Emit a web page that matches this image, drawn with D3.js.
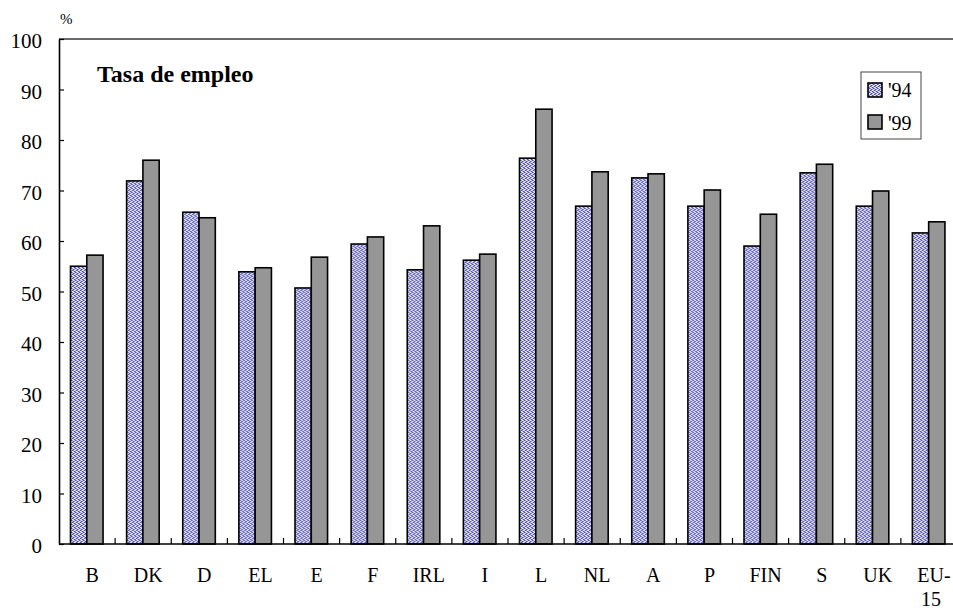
<!DOCTYPE html>
<html>
<head>
<meta charset="utf-8">
<script src="https://cdn.jsdelivr.net/npm/d3@7"></script>
<style>
  html, body { margin: 0; padding: 0; background: #fff; }
  svg { display: block; font-family: "Liberation Serif", "Times New Roman", serif; }
</style>
</head>
<body>
<svg id="chart" width="953" height="610"></svg>
<script>
// Employment rate by country, 1994 vs 1999
const categories = ["B", "DK", "D", "EL", "E", "F", "IRL", "I", "L", "NL", "A", "P", "FIN", "S", "UK", "EU-15"];
const seriesNames = ["'94", "'99"];
const values94 = [55.0, 71.9, 65.7, 53.9, 50.7, 59.4, 54.3, 56.2, 76.4, 66.9, 72.5, 66.9, 59.0, 73.5, 66.9, 61.6];
const values99 = [57.2, 76.0, 64.6, 54.7, 56.8, 60.8, 63.0, 57.4, 86.1, 73.7, 73.3, 70.1, 65.3, 75.2, 69.9, 63.8];
const yTicks = [0, 10, 20, 30, 40, 50, 60, 70, 80, 90, 100];

const rows = categories.map((c, i) => ({ cat: c, vals: [values94[i], values99[i]] }));

const svg = d3.select("#chart");
const plot = { left: 59, top: 39, bottom: 544, right: 957 };

const x = d3.scaleBand().domain(categories).range([plot.left, plot.right]).padding(0);
const xi = d3.scaleBand().domain(seriesNames).range([x.bandwidth() * 0.205, x.bandwidth() * 0.785]).padding(0);
const y = d3.scaleLinear().domain([0, 100]).range([plot.bottom, plot.top]);

// Fine blue weave fill for the first series
const defs = svg.append("defs");
const pat = defs.append("pattern")
  .attr("id", "weave")
  .attr("patternUnits", "userSpaceOnUse")
  .attr("width", 4).attr("height", 4);
pat.append("rect").attr("width", 4).attr("height", 4).attr("fill", "#f2f2fc");
[[0, 0], [2, 1], [1, 2], [3, 3]].forEach(([px, py]) =>
  pat.append("rect").attr("x", px).attr("y", py).attr("width", 1).attr("height", 1).attr("fill", "#4a4ab0"));
[[1, 0], [3, 1], [2, 2], [0, 3], [3, 0], [1, 1], [0, 2], [2, 3]].forEach(([px, py], i) =>
  pat.append("rect").attr("x", px).attr("y", py).attr("width", 1).attr("height", 1)
    .attr("fill", i < 4 ? "#8c8cd0" : "#c4c4ea"));

const fills = { "'94": "url(#weave)", "'99": "#969696" };

// Plot frame (top edge)
svg.append("line")
  .attr("x1", plot.left).attr("x2", plot.right).attr("y1", plot.top).attr("y2", plot.top)
  .attr("stroke", "#3a3a3a").attr("stroke-width", 1.5);

// Bars
const groups = svg.append("g").selectAll("g")
  .data(rows).join("g")
  .attr("transform", d => `translate(${x(d.cat)},0)`);

groups.selectAll("rect")
  .data(d => d.vals.map((v, i) => ({ key: seriesNames[i], v })))
  .join("rect")
  .attr("x", d => xi(d.key))
  .attr("width", xi.bandwidth())
  .attr("y", d => y(d.v))
  .attr("height", d => y(0) - y(d.v))
  .attr("fill", d => fills[d.key])
  .attr("stroke", "#000")
  .attr("stroke-width", 1.6);

// Y axis with inward ticks
const yAxis = d3.axisLeft(y).tickValues(yTicks).tickSizeInner(-5).tickSizeOuter(0).tickPadding(17);
const gy = svg.append("g").attr("transform", `translate(${plot.left},0)`).call(yAxis);
gy.select(".domain").attr("stroke", "#000").attr("stroke-width", 1.6);
gy.selectAll(".tick line").attr("stroke", "#000").attr("stroke-width", 1.2);
gy.selectAll(".tick text")
  .attr("font-size", 21).attr("fill", "#000")
  .attr("font-family", "Liberation Serif, Times New Roman, serif")
  .attr("dy", "0.42em");

// X axis: baseline with small upward ticks at category boundaries
svg.append("line")
  .attr("x1", plot.left).attr("x2", plot.right).attr("y1", plot.bottom).attr("y2", plot.bottom)
  .attr("stroke", "#000").attr("stroke-width", 1.6);
svg.append("g").selectAll("line")
  .data(categories.slice(1)).join("line")
  .attr("x1", d => x(d)).attr("x2", d => x(d))
  .attr("y1", plot.bottom).attr("y2", plot.bottom - 6)
  .attr("stroke", "#000").attr("stroke-width", 1.2);

// Category labels (EU-15 wraps onto two lines)
const labels = svg.append("g").selectAll("text")
  .data(categories).join("text")
  .attr("x", d => x(d) + x.bandwidth() / 2 + 5)
  .attr("y", 582)
  .attr("text-anchor", "middle")
  .attr("font-size", 20)
  .attr("fill", "#000");
labels.each(function (d) {
  const t = d3.select(this);
  if (d.includes("-")) {
    const parts = d.split("-");
    t.append("tspan").attr("x", t.attr("x")).text(parts[0] + "-");
    t.append("tspan").attr("x", +t.attr("x") - 3).attr("dy", 24).text(parts[1]);
  } else {
    t.text(d);
  }
});

// Unit label
svg.append("text").attr("x", 60).attr("y", 24)
  .attr("font-size", 15).attr("fill", "#000").text("%");

// Title
svg.append("text").attr("x", 97).attr("y", 82)
  .attr("font-size", 24).attr("font-weight", "bold").attr("fill", "#000")
  .text("Tasa de empleo");

// Legend
const lg = svg.append("g").attr("transform", "translate(861,72)");
lg.append("rect").attr("width", 60).attr("height", 67)
  .attr("fill", "#fff").attr("stroke", "#444").attr("stroke-width", 1);
seriesNames.forEach((s, i) => {
  lg.append("rect").attr("x", 7).attr("y", 11 + i * 32).attr("width", 14).attr("height", 14)
    .attr("fill", fills[s]).attr("stroke", "#000").attr("stroke-width", 1.6);
  lg.append("text").attr("x", 27).attr("y", 25 + i * 33)
    .attr("font-size", 20).attr("fill", "#000").text(s);
});
</script>
</body>
</html>
